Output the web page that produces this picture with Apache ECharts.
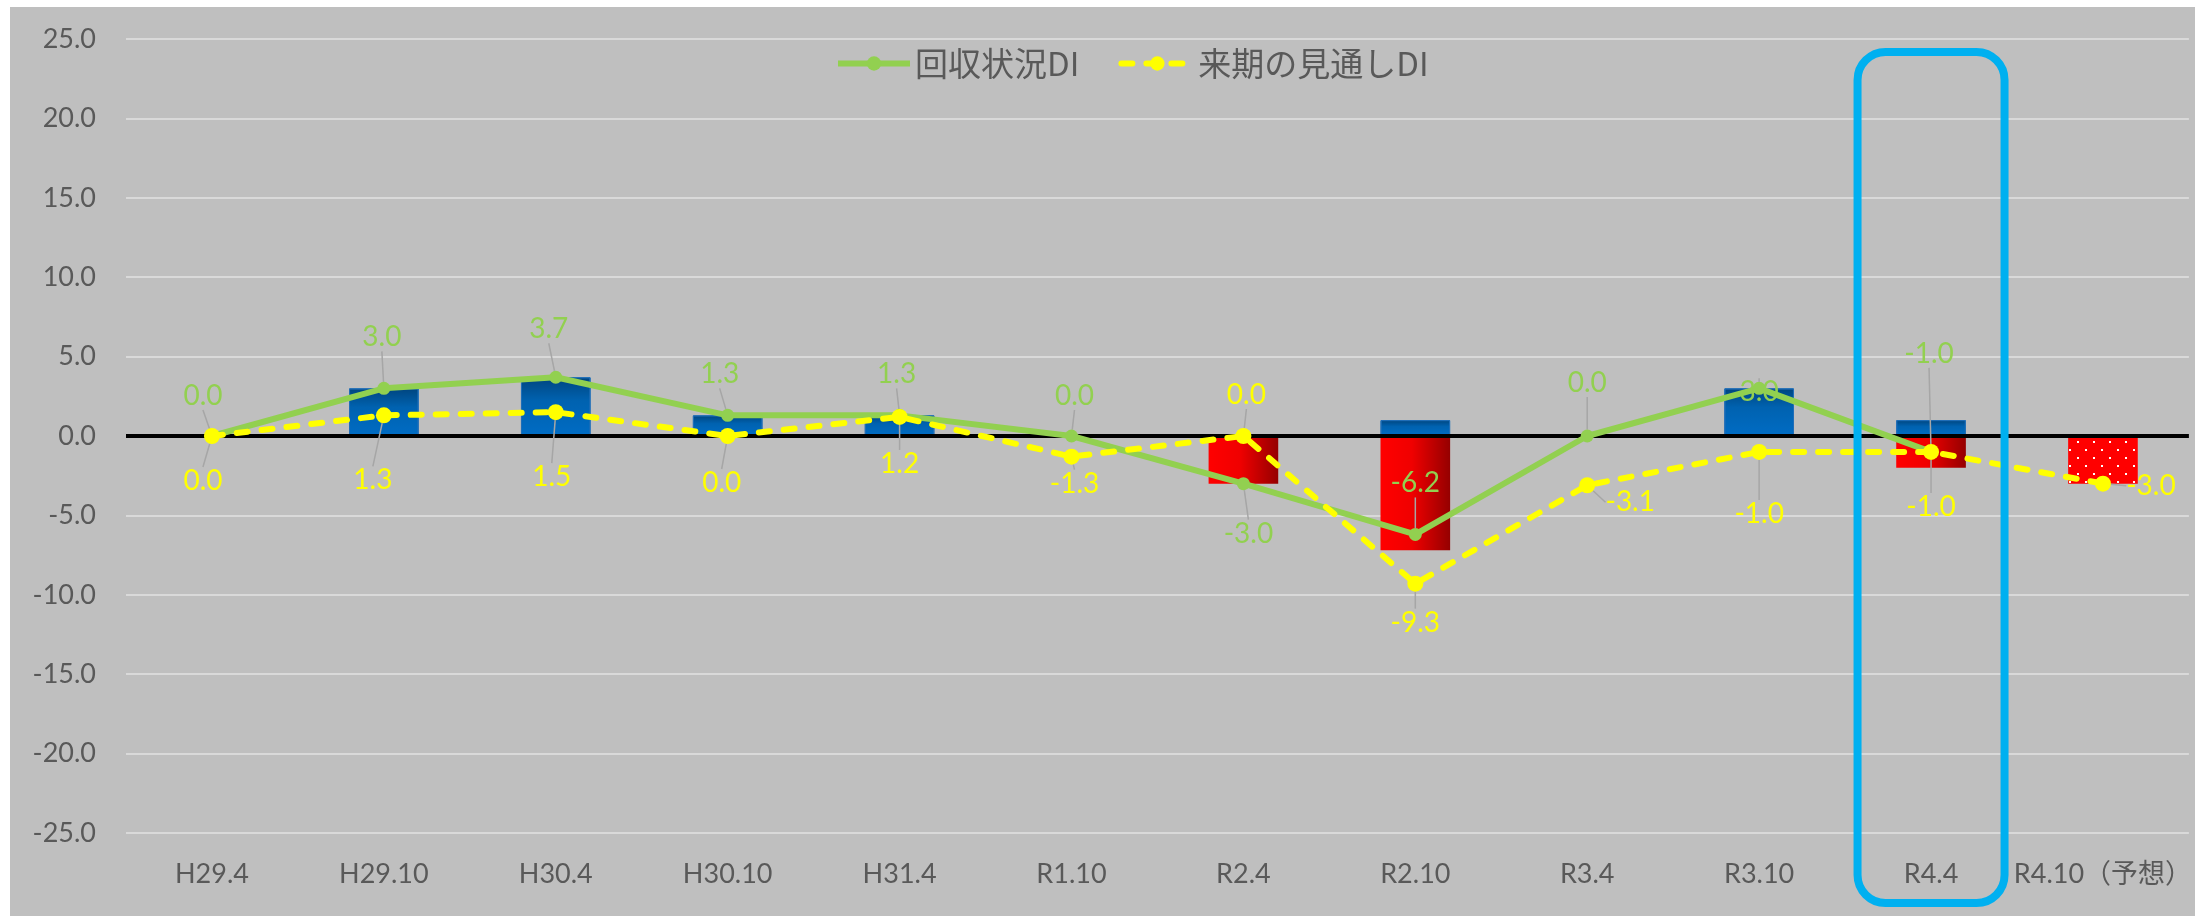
<!DOCTYPE html>
<html>
<head>
<meta charset="utf-8">
<title>回収状況DI</title>
<script src="https://cdn.jsdelivr.net/npm/echarts/dist/echarts.min.js"></script>
<style>
	html, body { margin: 0; padding: 0; background: #fff; }
	#main { position: absolute; left: 10px; top: 7px; width: 2185px; height: 909px; }
</style>
</head>
<body>
<div id="main"></div>
<script>
//データ
var categories = ['H29.4', 'H29.10', 'H30.4', 'H30.10', 'H31.4', 'R1.10', 'R2.4', 'R2.10', 'R3.4', 'R3.10', 'R4.4', 'R4.10（予想）'];
var kaishuDI = [0.0, 3.0, 3.7, 1.3, 1.3, 0.0, -3.0, -6.2, 0.0, 3.0, -1.0, null];
var mitoshiDI = [0.0, 1.3, 1.5, 0.0, 1.2, -1.3, 0.0, -9.3, -3.1, -1.0, -1.0, -3.0];
var barPlus = [0, 3.0, 3.7, 1.3, 1.3, 0, 0, 1.0, 0, 3.0, 1.0, null];
var barMinus = [0, 0, 0, 0, 0, 0, -3.0, -7.2, 0, 0, -2.0, null];
var barForecast = [null, null, null, null, null, null, null, null, null, null, null, -3.0];
var yTicks = { min: -25, max: 25, interval: 5 };

//ラベル位置のずらし (dx, dy)
var kaishuLabelOffset = [[-9, -40], [-2, -51], [-7, -48], [-8, -41], [-3, -41], [3, -40], [5, 50], [0, -51], [0, -53], [0, 4], [-2, -98], [0, 0]];
var mitoshiLabelOffset = [[-9, 45], [-11, 65], [-4, 65], [-6, 47], [0, 47], [3, 27], [3, -41], [0, 39], [43, 17], [0, 62], [0, 55], [48, 2]];

var numFont = 'Lato, "Noto Sans CJK JP", sans-serif';
var jpFont = '"Noto Sans CJK JP", sans-serif';

//予想の棒：赤地に白い点
var dotCanvas = document.createElement('canvas');
dotCanvas.width = 16;
dotCanvas.height = 16;
var ctx = dotCanvas.getContext('2d');
ctx.fillStyle = '#FF0000';
ctx.fillRect(0, 0, 16, 16);
ctx.fillStyle = '#FFFFFF';
ctx.fillRect(3, 2, 2, 2);
ctx.fillRect(11, 10, 2, 2);

var dom = document.getElementById("main");
var myChart = echarts.init(dom);
var option = null;

option = {
	backgroundColor: '#BFBFBF',
	animation: false,
	legend: {
		data: ['回収状況DI', '来期の見通しDI'],
		left: 820,
		top: 35,
		itemWidth: 72,
		itemHeight: 18,
		itemGap: 39,
		lineStyle: { width: 6 },
		textStyle: { color: '#595959', fontSize: 33, fontFamily: jpFont }
	},
	grid: {
		left: 116,
		right: 4,
		top: 32,
		bottom: 83
	},
	xAxis: {
		type: 'category',
		data: categories,
		axisLine: { show: false },
		axisTick: { show: false },
		axisLabel: { color: '#595959', fontSize: 27, fontFamily: numFont, margin: 28, interval: 0 }
	},
	yAxis: {
		type: 'value',
		min: yTicks.min,
		max: yTicks.max,
		interval: yTicks.interval,
		axisLine: { show: false },
		axisTick: { show: false },
		axisLabel: {
			color: '#595959', fontSize: 27, fontFamily: numFont, margin: 30,
			formatter: function (v) { return v.toFixed(1); }
		},
		splitLine: { lineStyle: { color: '#D9D9D9', width: 2 } }
	},
	series: [
		{
			name: 'plus',
			type: 'bar',
			stack: 'bar',
			barWidth: '40.5%',
			data: barPlus,
			itemStyle: {
				color: new echarts.graphic.LinearGradient(0, 0, 0, 1, [
					{ offset: 0, color: '#00457F' },
					{ offset: 0.4, color: '#0062B0' },
					{ offset: 1, color: '#006CC4' }
				]),
				borderColor: '#1F6EB8',
				borderWidth: 1
			}
		},
		{
			name: 'minus',
			type: 'bar',
			stack: 'bar',
			barWidth: '40.5%',
			data: barMinus,
			itemStyle: {
				color: new echarts.graphic.LinearGradient(0, 0, 1, 0, [
					{ offset: 0, color: '#FF0000' },
					{ offset: 0.45, color: '#F00000' },
					{ offset: 1, color: '#950000' }
				])
			}
		},
		{
			name: 'forecast',
			type: 'bar',
			stack: 'bar',
			barWidth: '40.5%',
			data: barForecast,
			itemStyle: {
				color: { image: dotCanvas, repeat: 'repeat' }
			},
			//ゼロの線
			markLine: {
				silent: true,
				symbol: 'none',
				label: { show: false },
				lineStyle: { color: '#000000', width: 4, type: 'solid' },
				data: [{ yAxis: 0 }]
			}
		},
		{
			name: '回収状況DI',
			type: 'line',
			data: kaishuDI,
			symbol: 'circle',
			symbolSize: 13,
			z: 5,
			lineStyle: { color: '#92D050', width: 6 },
			itemStyle: { color: '#92D050' },
			label: {
				show: true,
				position: 'inside',
				color: '#92D050',
				fontSize: 28,
				fontFamily: numFont,
				formatter: function (p) { return p.value.toFixed(1); }
			},
			labelLine: { show: true, lineStyle: { color: '#A6A6A6', width: 1.5 } },
			labelLayout: function (params) {
				var o = kaishuLabelOffset[params.dataIndex];
				return { dx: o[0], dy: o[1] };
			}
		},
		{
			name: '来期の見通しDI',
			type: 'line',
			data: mitoshiDI,
			symbol: 'circle',
			symbolSize: 16,
			z: 6,
			lineStyle: { color: '#FFFF00', width: 6, type: [11, 14], cap: 'round' },
			itemStyle: { color: '#FFFF00' },
			label: {
				show: true,
				position: 'inside',
				color: '#FFFF00',
				fontSize: 28,
				fontFamily: numFont,
				formatter: function (p) { return p.value.toFixed(1); }
			},
			labelLine: { show: true, lineStyle: { color: '#A6A6A6', width: 1.5 } },
			labelLayout: function (params) {
				var o = mitoshiLabelOffset[params.dataIndex];
				return { dx: o[0], dy: o[1] };
			}
		}
	]
};

if (option && typeof option === "object") {
	myChart.setOption(option, true);
}

//R4.4 を囲む青い枠
var cx = myChart.convertToPixel({ xAxisIndex: 0 }, 'R4.4');
var yTop = myChart.convertToPixel({ yAxisIndex: 0 }, yTicks.max) + 13;
var yBot = myChart.convertToPixel({ yAxisIndex: 0 }, yTicks.min) + 70;
myChart.setOption({
	graphic: [{
		type: 'rect',
		z: 100,
		shape: { x: cx - 73.5, y: yTop, width: 147, height: yBot - yTop, r: 28 },
		style: { fill: 'none', stroke: '#00B0F0', lineWidth: 8 }
	}]
});
</script>
</body>
</html>
